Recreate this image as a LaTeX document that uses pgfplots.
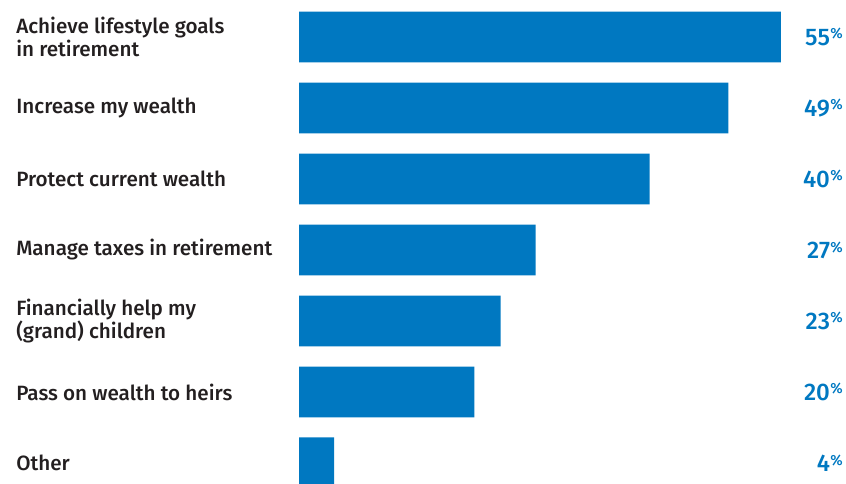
\documentclass[border=0pt]{standalone}
\usepackage{pgfplots}
\pgfplotsset{compat=1.18}
\usepackage{fontspec}
\setmainfont{Fira Sans}[UprightFont=* Medium, BoldFont=* SemiBold]
\definecolor{barblue}{HTML}{0078C1}
\definecolor{txt}{HTML}{231F20}
\begin{document}
\begin{tikzpicture}[x=1pt,y=1pt]
\useasboundingbox (0,0) rectangle (634.5,362.25);
\begin{axis}[
  at={(0,0)}, anchor=south west,
  scale only axis, width=634.5pt, height=362.25pt,
  xmin=-34.12, xmax=62.42,
  ymin=-0.521, ymax=6.282, y dir=reverse,
  hide axis,
  clip=true,
  /pgf/number format/assume math mode=true,
]
\addplot[xbar, bar width=0.718, fill=barblue, draw=none, bar shift=0pt]
  coordinates {(55,0) (49,1) (40,2) (27,3) (23,4) (20,5) (4,6)};
\addplot[draw=none, mark=none, point meta=explicit,
  nodes near coords={\pgfmathprintnumber{\pgfplotspointmeta}\kern0.3pt\raisebox{4.6pt}{\fontsize{11}{11}\selectfont\%}},
  every node near coord/.append style={anchor=east, inner sep=0pt, text=barblue, font=\fontsize{18}{18}\selectfont}]
  coordinates {(62.08,0)[55] (62.08,1)[49] (62.08,2)[40] (62.08,3)[27] (62.08,4)[23] (62.08,5)[20] (62.08,6)[4]};
\begin{scope}[every node/.style={anchor=west, align=left, inner sep=0pt, text=txt, font=\fontsize{15.5}{17.25}\selectfont}]
\node at (axis cs:-32.29,0) {Achieve lifestyle goals\\in retirement};
\node at (axis cs:-32.29,1) {Increase my wealth};
\node at (axis cs:-32.29,2) {Protect current wealth};
\node at (axis cs:-32.29,3) {Manage taxes in retirement};
\node at (axis cs:-32.29,4) {Financially help my\\(grand) children};
\node at (axis cs:-32.29,5) {Pass on wealth to heirs};
\node at (axis cs:-32.29,6) {Other};
\end{scope}
\end{axis}
\end{tikzpicture}
\end{document}
